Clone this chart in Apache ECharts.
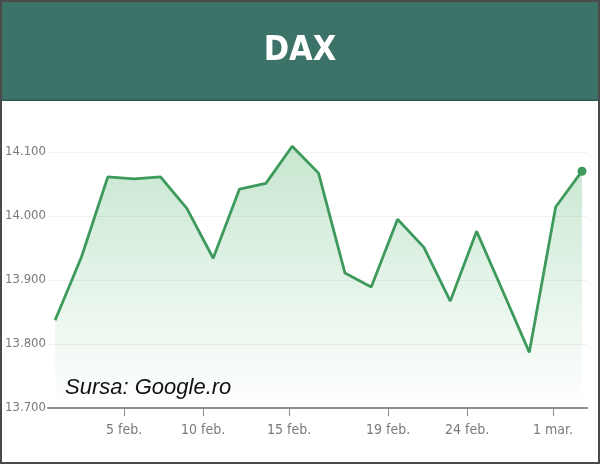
<!DOCTYPE html>
<html>
<head>
<meta charset="utf-8">
<script src="https://cdn.jsdelivr.net/npm/echarts@6/dist/echarts.min.js"></script>
<style>
html,body{margin:0;padding:0;background:#fff;}
#c{width:600px;height:464px;}
</style>
</head>
<body>
<div id="c"></div>
<script>
// Trading days (1 Feb – 1 Mar), DAX closing values
const days = ['1 feb','2 feb','3 feb','4 feb','5 feb','8 feb','9 feb','10 feb','11 feb','12 feb',
  '15 feb','16 feb','17 feb','18 feb','19 feb','22 feb','23 feb','24 feb','25 feb','26 feb','1 mar'];
const values = [13837, 13936, 14061, 14058, 14061, 14012, 13934, 14042, 14051, 14109,
  14067, 13911, 13889, 13995, 13951, 13867, 13976, 13882, 13787, 14014, 14070];
// x-axis tick labels and where they sit along the trading-day index
const tickLabels = ['5 feb.', '10 feb.', '15 feb.', '19 feb.', '24 feb.', '1 mar.'];
const tickPositions = [2.62, 5.62, 8.88, 12.64, 15.64, 18.9];

const narrow = "'Liberation Sans Narrow', 'Arial Narrow', 'DejaVu Sans Condensed', sans-serif";
const seriesData = values.map((v, i) => [i, v]);
const lastIdx = values.length - 1;

const chart = echarts.init(document.getElementById('c'), null, {renderer: 'canvas'});
chart.setOption({
  animation: false,
  backgroundColor: '#ffffff',
  grid: {left: 48, right: 13, top: 88, bottom: 56, containLabel: false, outerBoundsMode: 'none'},
  xAxis: {
    type: 'value',
    min: -0.27,
    max: 20.19,
    splitLine: {show: false},
    axisLine: {show: true, lineStyle: {color: '#8f8f8f', width: 2}},
    axisTick: {show: true, customValues: tickPositions, length: 8, lineStyle: {color: '#8f8f8f', width: 1}},
    axisLabel: {
      customValues: tickPositions,
      formatter: function (v) {
        const k = tickPositions.indexOf(v);
        return k >= 0 ? tickLabels[k] : '';
      },
      color: '#7a7a7a', fontSize: 14, fontFamily: narrow, margin: 15
    }
  },
  yAxis: {
    type: 'value',
    min: 13700,
    max: 14200,
    interval: 100,
    axisLine: {show: false},
    axisTick: {show: false},
    splitLine: {show: true, lineStyle: {color: '#f1f1f1', width: 1}},
    axisLabel: {
      formatter: function (v) {
        const s = Math.round(v).toString();
        return s.slice(0, s.length - 3) + '.' + s.slice(-3);
      },
      color: '#7a7a7a', fontSize: 13, fontFamily: narrow, margin: 2
    }
  },
  series: [{
    type: 'line',
    data: seriesData,
    showSymbol: true,
    symbol: 'circle',
    symbolSize: function (val, p) { return p.dataIndex === lastIdx ? 9 : 0; },
    itemStyle: {color: '#3e9a5c'},
    lineStyle: {color: '#3e9a5c', width: 2.8},
    areaStyle: {
      color: new echarts.graphic.LinearGradient(0, 0, 0, 1, [
        {offset: 0, color: 'rgba(62,170,92,0.42)'},
        {offset: 1, color: 'rgba(62,170,92,0.0)'}
      ])
    },
    z: 3
  }],
  graphic: [
    {type: 'rect', z: 100, shape: {x: 0, y: 0, width: 600, height: 100}, style: {fill: '#3d7268'}},
    {type: 'rect', z: 101, shape: {x: 0, y: 99.5, width: 600, height: 1.5}, style: {fill: '#2f5a52'}},
    {type: 'text', z: 102, x: 300, y: 51, style: {
      text: 'DAX', fill: '#ffffff', font: "bold 34px " + narrow,
      textAlign: 'center', textVerticalAlign: 'middle'}},
    {type: 'text', z: 102, x: 65, y: 388, style: {
      text: 'Sursa: Google.ro', fill: '#111111', font: "italic 22px 'Liberation Sans', Arial, sans-serif",
      textAlign: 'left', textVerticalAlign: 'middle'}},
    {type: 'rect', z: 110, shape: {x: 1, y: 1, width: 598, height: 462},
      style: {fill: 'none', stroke: '#4a4a4a', lineWidth: 2}}
  ]
});
</script>
</body>
</html>
